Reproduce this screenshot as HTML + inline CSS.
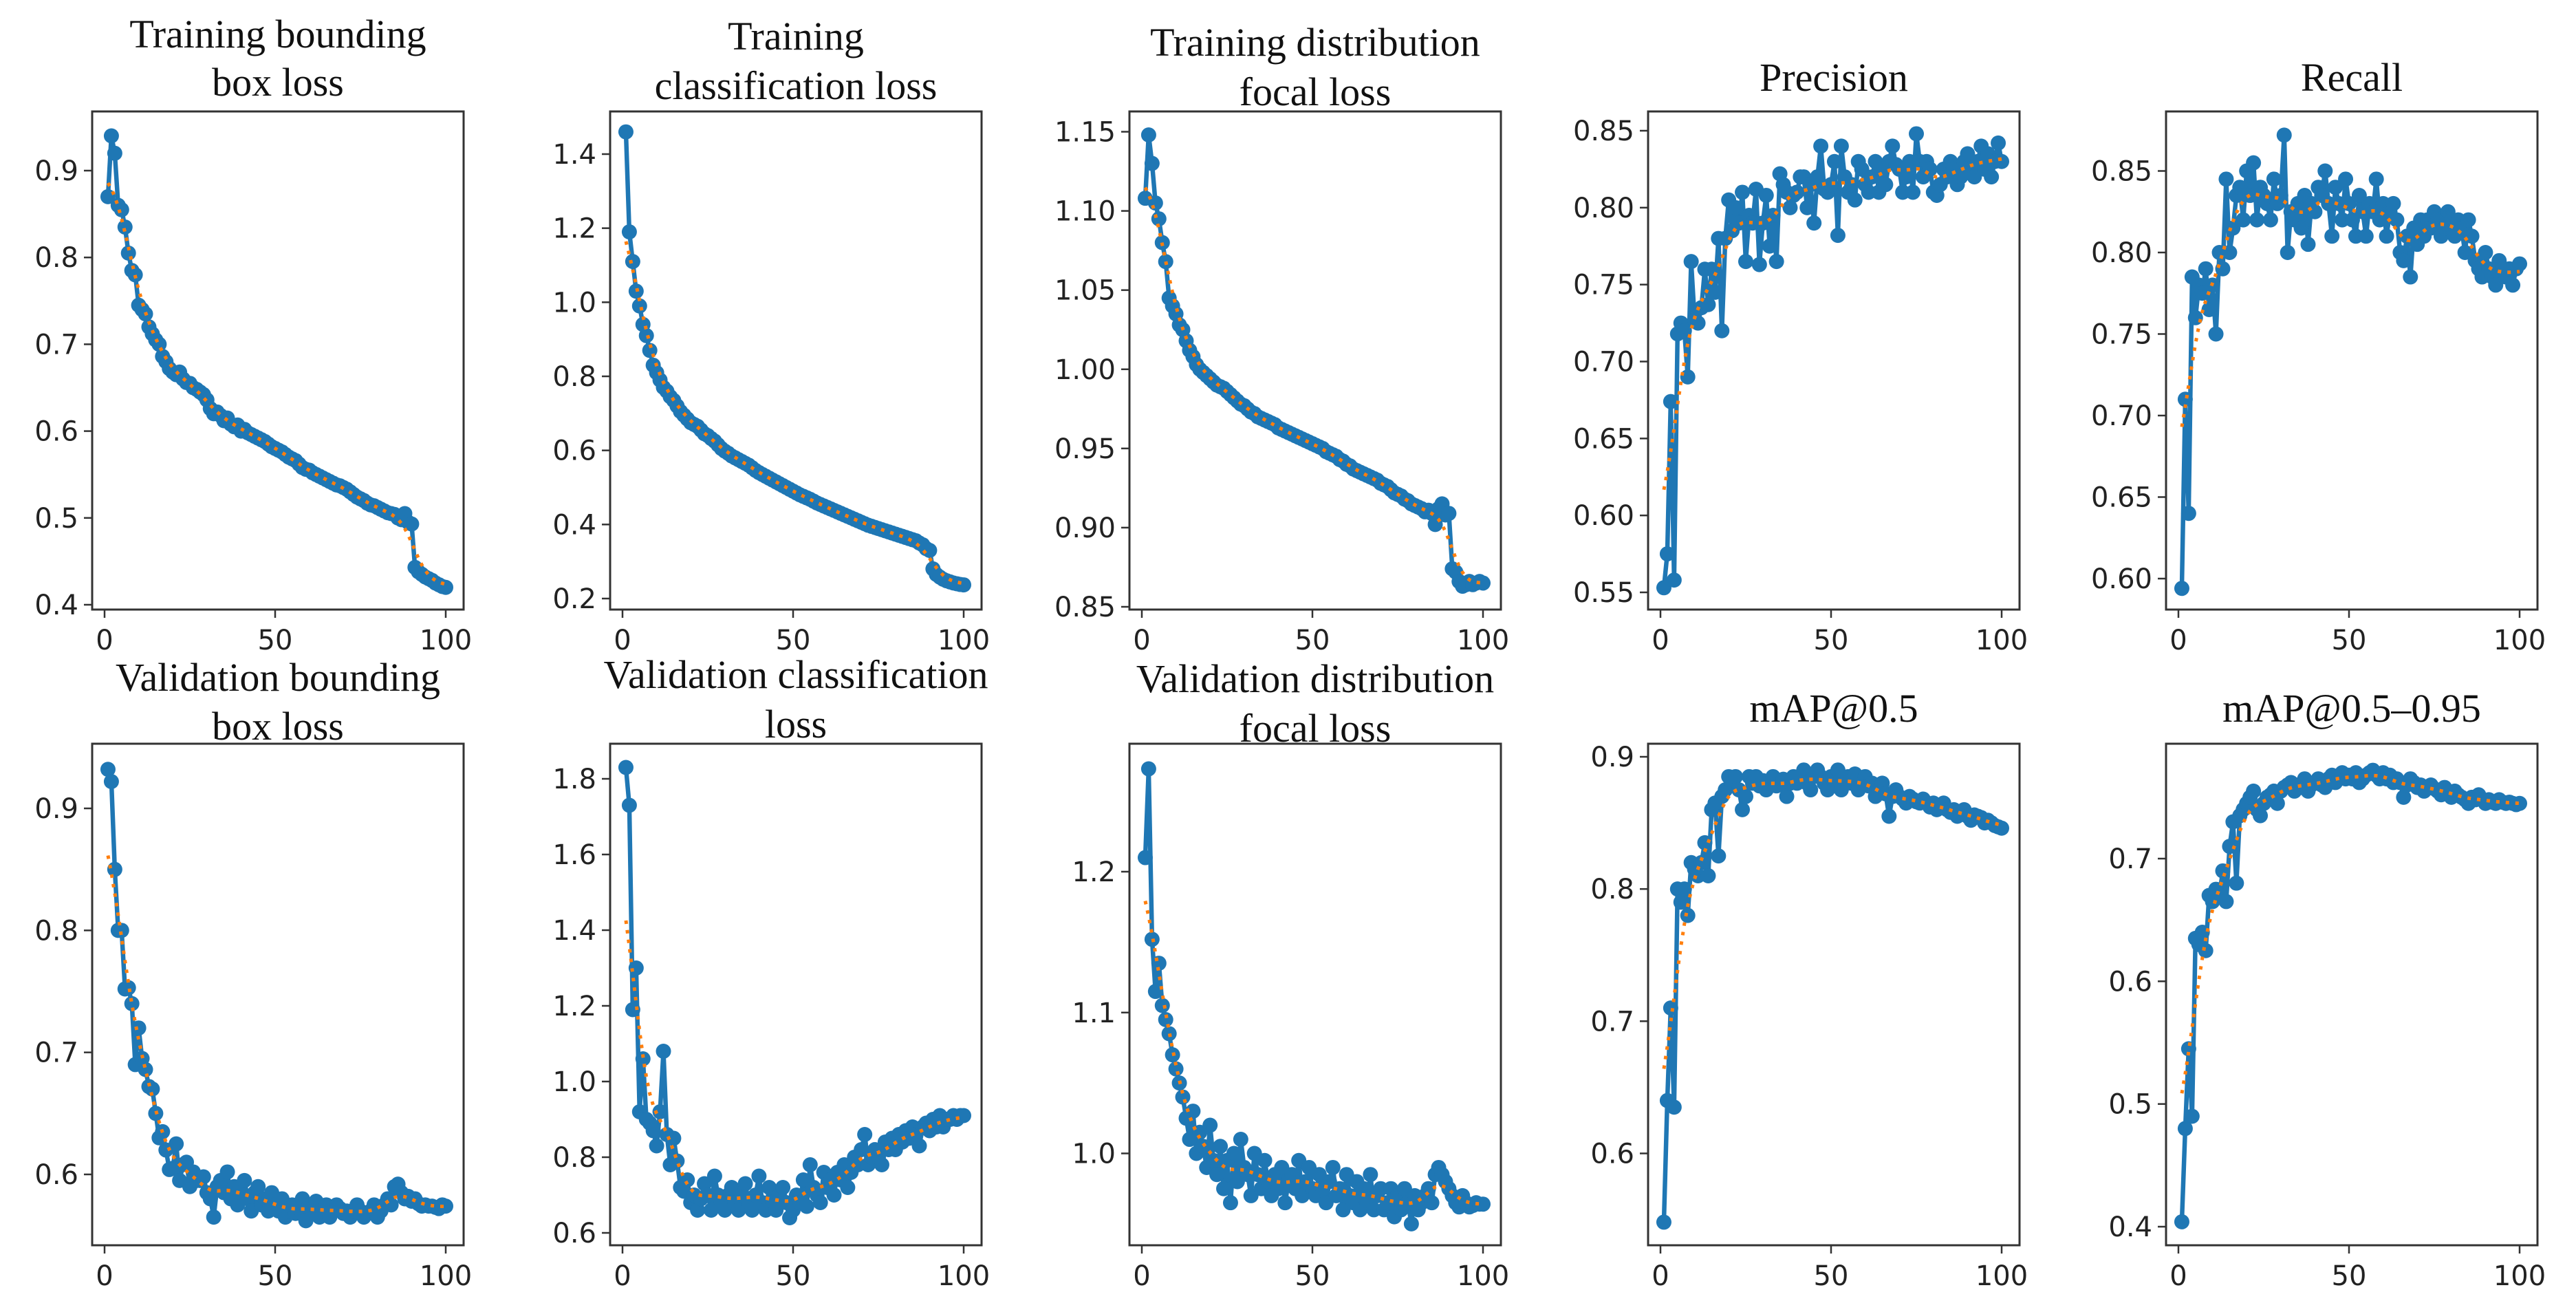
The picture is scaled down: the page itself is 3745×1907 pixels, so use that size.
<!DOCTYPE html>
<html><head><meta charset="utf-8"><style>
html,body{margin:0;padding:0;background:#fff}
svg{display:block}
</style></head><body>
<svg id="fig" width="3745" height="1907" xmlns="http://www.w3.org/2000/svg"></svg>
<script>
const epochs = Array.from({length:100},(_,i)=>i+1);
const xTicks = [0,50,100];
const trainBox = [0.870,0.940,0.920,0.860,0.855,0.835,0.805,0.785,0.780,0.745,0.740,0.735,0.720,0.712,0.705,0.700,0.686,0.680,0.672,0.668,0.665,0.668,0.660,0.656,0.655,0.650,0.648,0.645,0.642,0.636,0.626,0.620,0.622,0.618,0.612,0.615,0.608,0.605,0.607,0.600,0.602,0.598,0.596,0.594,0.592,0.590,0.588,0.585,0.582,0.580,0.578,0.576,0.573,0.570,0.568,0.566,0.562,0.558,0.556,0.555,0.552,0.550,0.548,0.546,0.544,0.542,0.540,0.538,0.537,0.535,0.533,0.530,0.527,0.524,0.522,0.520,0.517,0.515,0.514,0.512,0.510,0.508,0.506,0.505,0.504,0.500,0.498,0.505,0.495,0.493,0.443,0.438,0.435,0.432,0.430,0.428,0.425,0.423,0.421,0.420];
const trainCls = [1.46,1.19,1.11,1.03,0.99,0.94,0.91,0.87,0.83,0.81,0.79,0.77,0.76,0.745,0.735,0.72,0.705,0.695,0.685,0.675,0.67,0.665,0.655,0.645,0.64,0.632,0.625,0.615,0.605,0.598,0.592,0.585,0.580,0.575,0.570,0.565,0.560,0.553,0.546,0.540,0.535,0.530,0.525,0.520,0.515,0.510,0.505,0.500,0.495,0.490,0.485,0.480,0.476,0.472,0.468,0.463,0.458,0.454,0.450,0.446,0.442,0.438,0.434,0.430,0.426,0.422,0.418,0.414,0.410,0.406,0.402,0.398,0.395,0.392,0.389,0.386,0.383,0.380,0.377,0.374,0.371,0.368,0.365,0.362,0.359,0.356,0.350,0.345,0.335,0.330,0.280,0.265,0.258,0.252,0.248,0.245,0.242,0.240,0.238,0.237];
const trainDfl = [1.108,1.148,1.13,1.105,1.095,1.08,1.068,1.045,1.04,1.035,1.028,1.025,1.018,1.012,1.008,1.003,1.000,0.998,0.996,0.994,0.992,0.99,0.989,0.988,0.986,0.984,0.982,0.98,0.978,0.977,0.975,0.973,0.972,0.97,0.969,0.968,0.967,0.966,0.965,0.963,0.962,0.961,0.96,0.959,0.958,0.957,0.956,0.955,0.954,0.953,0.952,0.951,0.95,0.948,0.947,0.946,0.945,0.943,0.942,0.94,0.939,0.937,0.936,0.935,0.934,0.933,0.932,0.931,0.93,0.928,0.927,0.926,0.924,0.922,0.921,0.92,0.918,0.917,0.915,0.914,0.913,0.912,0.91,0.911,0.909,0.902,0.912,0.915,0.908,0.909,0.874,0.872,0.866,0.863,0.864,0.866,0.864,0.865,0.866,0.865];
const precision = [0.553,0.575,0.674,0.558,0.718,0.725,0.72,0.69,0.765,0.727,0.725,0.735,0.76,0.737,0.76,0.745,0.78,0.72,0.78,0.805,0.785,0.80,0.79,0.81,0.765,0.795,0.79,0.812,0.763,0.79,0.808,0.775,0.795,0.765,0.822,0.815,0.81,0.80,0.808,0.81,0.82,0.82,0.80,0.815,0.79,0.82,0.84,0.812,0.81,0.815,0.83,0.782,0.84,0.82,0.81,0.815,0.805,0.83,0.825,0.815,0.81,0.82,0.83,0.81,0.825,0.815,0.83,0.84,0.828,0.825,0.81,0.82,0.83,0.81,0.848,0.83,0.82,0.83,0.825,0.81,0.808,0.815,0.825,0.82,0.83,0.825,0.815,0.82,0.83,0.835,0.825,0.82,0.83,0.84,0.825,0.835,0.82,0.83,0.842,0.83];
const recall = [0.594,0.71,0.64,0.785,0.76,0.78,0.775,0.79,0.765,0.78,0.75,0.80,0.79,0.845,0.80,0.815,0.835,0.84,0.82,0.85,0.835,0.855,0.82,0.84,0.835,0.83,0.82,0.845,0.83,0.835,0.872,0.80,0.825,0.82,0.83,0.815,0.835,0.805,0.83,0.825,0.84,0.835,0.85,0.83,0.81,0.84,0.83,0.82,0.845,0.83,0.82,0.81,0.835,0.825,0.81,0.83,0.825,0.845,0.82,0.83,0.81,0.825,0.83,0.82,0.80,0.795,0.81,0.785,0.815,0.805,0.82,0.81,0.82,0.815,0.825,0.82,0.81,0.815,0.825,0.82,0.81,0.82,0.815,0.80,0.82,0.81,0.795,0.79,0.785,0.80,0.79,0.785,0.78,0.795,0.79,0.785,0.79,0.78,0.79,0.793];
const valBox = [0.932,0.922,0.85,0.80,0.80,0.752,0.753,0.74,0.69,0.72,0.695,0.686,0.672,0.67,0.65,0.63,0.635,0.62,0.604,0.605,0.625,0.595,0.608,0.61,0.59,0.602,0.595,0.595,0.598,0.585,0.58,0.565,0.59,0.595,0.585,0.602,0.58,0.59,0.575,0.585,0.595,0.58,0.57,0.585,0.59,0.575,0.58,0.57,0.585,0.575,0.57,0.58,0.565,0.57,0.575,0.568,0.572,0.58,0.562,0.575,0.57,0.578,0.565,0.57,0.575,0.565,0.57,0.575,0.572,0.568,0.57,0.565,0.57,0.575,0.57,0.565,0.568,0.57,0.575,0.565,0.57,0.575,0.58,0.575,0.59,0.592,0.585,0.58,0.582,0.578,0.58,0.576,0.574,0.575,0.574,0.574,0.573,0.572,0.575,0.574];
const valCls = [1.83,1.73,1.19,1.30,0.92,1.06,0.90,0.89,0.87,0.83,0.92,1.08,0.86,0.78,0.85,0.79,0.72,0.71,0.74,0.68,0.70,0.66,0.69,0.73,0.70,0.66,0.75,0.70,0.68,0.66,0.70,0.72,0.68,0.66,0.70,0.73,0.68,0.66,0.70,0.75,0.68,0.66,0.72,0.68,0.66,0.70,0.72,0.68,0.64,0.66,0.70,0.68,0.74,0.67,0.78,0.72,0.70,0.68,0.76,0.72,0.74,0.70,0.76,0.74,0.78,0.72,0.76,0.80,0.78,0.82,0.86,0.78,0.80,0.82,0.80,0.78,0.84,0.82,0.85,0.82,0.86,0.84,0.87,0.85,0.88,0.86,0.83,0.88,0.89,0.87,0.90,0.88,0.91,0.88,0.90,0.90,0.91,0.90,0.91,0.91];
const valDfl = [1.21,1.273,1.152,1.115,1.135,1.105,1.095,1.085,1.07,1.06,1.05,1.04,1.025,1.01,1.03,1.0,1.015,1.005,0.99,1.02,0.995,0.985,1.005,0.975,0.995,0.965,1.0,0.98,1.01,0.99,0.985,0.97,1.0,0.985,0.975,0.995,0.98,0.97,0.985,0.975,0.99,0.965,0.98,0.985,0.975,0.995,0.97,0.98,0.99,0.975,0.97,0.985,0.975,0.965,0.98,0.99,0.97,0.975,0.96,0.985,0.97,0.965,0.98,0.96,0.975,0.965,0.985,0.96,0.97,0.975,0.96,0.965,0.975,0.955,0.97,0.96,0.975,0.965,0.95,0.97,0.96,0.965,0.97,0.975,0.965,0.985,0.99,0.985,0.98,0.975,0.97,0.965,0.962,0.97,0.965,0.962,0.963,0.965,0.964,0.964];
const map50 = [0.548,0.64,0.71,0.635,0.80,0.79,0.80,0.78,0.82,0.815,0.81,0.82,0.835,0.81,0.86,0.865,0.825,0.87,0.875,0.885,0.88,0.885,0.875,0.86,0.87,0.885,0.88,0.885,0.878,0.882,0.875,0.88,0.885,0.878,0.88,0.883,0.87,0.88,0.885,0.88,0.885,0.89,0.88,0.875,0.885,0.89,0.885,0.88,0.875,0.885,0.88,0.89,0.875,0.88,0.885,0.88,0.887,0.875,0.88,0.885,0.878,0.88,0.87,0.875,0.88,0.872,0.855,0.87,0.875,0.87,0.868,0.865,0.87,0.868,0.866,0.865,0.868,0.865,0.862,0.865,0.86,0.862,0.865,0.86,0.858,0.86,0.855,0.858,0.86,0.855,0.852,0.856,0.855,0.854,0.85,0.852,0.85,0.848,0.847,0.846];
const map5095 = [0.404,0.48,0.545,0.49,0.635,0.63,0.64,0.625,0.67,0.665,0.675,0.67,0.69,0.665,0.71,0.73,0.68,0.735,0.74,0.745,0.75,0.755,0.74,0.735,0.745,0.75,0.752,0.755,0.745,0.755,0.758,0.76,0.762,0.755,0.76,0.758,0.765,0.755,0.76,0.762,0.765,0.76,0.758,0.765,0.768,0.762,0.765,0.77,0.765,0.768,0.765,0.77,0.762,0.765,0.768,0.77,0.772,0.768,0.765,0.77,0.765,0.768,0.762,0.765,0.762,0.75,0.76,0.765,0.762,0.758,0.76,0.755,0.758,0.76,0.757,0.755,0.752,0.758,0.755,0.75,0.755,0.752,0.75,0.748,0.745,0.75,0.748,0.752,0.748,0.745,0.748,0.746,0.745,0.748,0.746,0.745,0.746,0.745,0.744,0.745];
const ticks1 = ["0.4","0.5","0.6","0.7","0.8","0.9"];
const ticks2 = ["0.2","0.4","0.6","0.8","1.0","1.2","1.4"];
const ticks3 = ["0.85","0.90","0.95","1.00","1.05","1.10","1.15"];
const ticks4 = ["0.55","0.60","0.65","0.70","0.75","0.80","0.85"];
const ticks5 = ["0.60","0.65","0.70","0.75","0.80","0.85"];
const ticks6 = ["0.6","0.7","0.8","0.9"];
const ticks7 = ["0.6","0.8","1.0","1.2","1.4","1.6","1.8"];
const ticks8 = ["1.0","1.1","1.2"];
const ticks9 = ["0.6","0.7","0.8","0.9"];
const ticks10 = ["0.4","0.5","0.6","0.7"];

const NS="http://www.w3.org/2000/svg";
const svg=document.getElementById('fig');
function mk(tag,attrs,parent){const e=document.createElementNS(NS,tag);for(const k in attrs)e.setAttribute(k,attrs[k]);(parent||svg).appendChild(e);return e;}

const panels=[
 {name:'train-box-loss',title:['Training bounding','box loss'],ty:[49,119],data:trainBox,ticks:ticks1,l:134,t:162,b:886,vh:0.9,ph:248,vl:0.4,pl:879},
 {name:'train-cls-loss',title:['Training','classification loss'],ty:[52,124],data:trainCls,ticks:ticks2,l:887,t:162,b:886,vh:1.4,ph:224,vl:0.2,pl:870},
 {name:'train-dfl-loss',title:['Training distribution','focal loss'],ty:[61,133],data:trainDfl,ticks:ticks3,l:1642,t:162,b:886,vh:1.15,ph:191.5,vl:0.85,pl:882},
 {name:'precision',title:['Precision'],ty:[112],data:precision,ticks:ticks4,l:2396,t:162,b:886,vh:0.85,ph:190,vl:0.55,pl:861},
 {name:'recall',title:['Recall'],ty:[112],data:recall,ticks:ticks5,l:3149,t:162,b:886,vh:0.85,ph:248.5,vl:0.60,pl:841},
 {name:'val-box-loss',title:['Validation bounding','box loss'],ty:[984,1055],data:valBox,ticks:ticks6,l:134,t:1081,b:1810,vh:0.9,ph:1175,vl:0.6,pl:1707},
 {name:'val-cls-loss',title:['Validation classification','loss'],ty:[980,1052],data:valCls,ticks:ticks7,l:887,t:1081,b:1810,vh:1.8,ph:1132,vl:0.6,pl:1792},
 {name:'val-dfl-loss',title:['Validation distribution','focal loss'],ty:[986,1058],data:valDfl,ticks:ticks8,l:1642,t:1081,b:1810,vh:1.2,ph:1267,vl:1.0,pl:1676.5},
 {name:'map50',title:['mAP@0.5'],ty:[1029],data:map50,ticks:ticks9,l:2396,t:1081,b:1810,vh:0.9,ph:1100,vl:0.6,pl:1676.5},
 {name:'map50-95',title:['mAP@0.5–0.95'],ty:[1029],data:map5095,ticks:ticks10,l:3149,t:1081,b:1810,vh:0.7,ph:1248,vl:0.4,pl:1783}
];
const W=540;
function smooth(arr){const s=3,out=[];for(let i=0;i<arr.length;i++){let a=0,w=0;for(let j=-9;j<=9;j++){const k=i+j;if(k<0||k>=arr.length)continue;const g=Math.exp(-j*j/(2*s*s));a+=arr[k]*g;w+=g;}out.push(a/w);}return out;}

panels.forEach(p=>{
  const g=mk('g',{});
  
  
  const xs=v=>p.l+18+v*4.96;
  const ys=v=>p.pl+(v-p.vl)*(p.ph-p.pl)/(p.vh-p.vl);
  const cx=p.l+W/2;
  p.title.forEach((line,i)=>{
    const t=mk('text',{x:cx,y:p.ty[i]+20,'text-anchor':'middle','font-family':'"Liberation Serif",serif','font-size':58,fill:'#111'},g);
    t.textContent=line;
    
    
  });
  p.ticks.forEach(lbl=>{
    const y=ys(parseFloat(lbl));
    const tk=mk('line',{x1:p.l-12,x2:p.l,y1:y,y2:y,stroke:'#333','stroke-width':2.5},g);
    
    
    const t=mk('text',{x:p.l-20,y:y+14,'text-anchor':'end','font-family':'"DejaVu Sans",sans-serif','font-size':40,fill:'#222'},g);
    t.textContent=lbl;
    
    
  });
  xTicks.forEach(v=>{
    const x=xs(v);
    const tk=mk('line',{x1:x,x2:x,y1:p.b,y2:p.b+12,stroke:'#333','stroke-width':2.5},g);
    
    
    const t=mk('text',{x:x,y:p.b+58,'text-anchor':'middle','font-family':'"DejaVu Sans",sans-serif','font-size':40,fill:'#222'},g);
    t.textContent=String(v);
    
    
  });
  const pts=p.data.map((v,i)=>xs(epochs[i])+','+ys(v)).join(' ');
  const ln=mk('polyline',{points:pts,fill:'none',stroke:'#1f77b4','stroke-width':6.5,'stroke-linejoin':'round'},g);
  
  
  p.data.forEach((v,i)=>{
    const c=mk('circle',{cx:xs(epochs[i]),cy:ys(v),r:11,fill:'#1f77b4'},g);
    
    
  });
  const sm=smooth(p.data);
  const sp=sm.map((v,i)=>xs(epochs[i])+','+ys(v)).join(' ');
  const sl=mk('polyline',{points:sp,fill:'none',stroke:'#ff7f0e','stroke-width':5,'stroke-dasharray':'5 9'},g);
  
  
  const box=mk('rect',{x:p.l,y:p.t,width:W,height:p.b-p.t,fill:'none',stroke:'#333','stroke-width':3},g);
  
  
});
</script>
</body></html>
